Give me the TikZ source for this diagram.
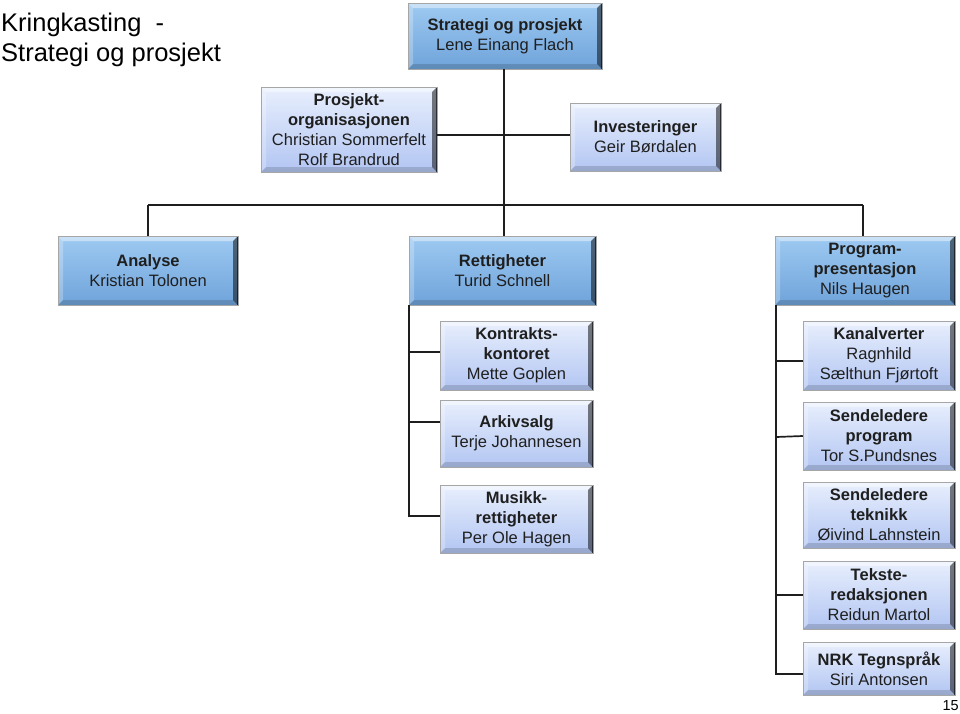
\documentclass[tikz,border=0pt]{standalone}
\usepackage{fontspec}
\setmainfont{Liberation Sans}
\definecolor{dtop}{HTML}{9ECAF2}
\definecolor{dbot}{HTML}{6FA3DA}
\definecolor{ltop}{HTML}{E8EFFD}
\definecolor{lbot}{HTML}{B2C5F2}
\definecolor{linec}{HTML}{1E1E1E}
\begin{document}
\begin{tikzpicture}[x=1pt,y=-1pt,
  boxbase/.style={rectangle, inner sep=0pt, align=center,
    font=\fontsize{16.5}{20}\selectfont, text=black!88,
    draw=black!35, line width=0.5pt,
    path picture={
      \fill[white,opacity=0.45] (path picture bounding box.north west) -- (path picture bounding box.north east)
        -- ([xshift=-5pt,yshift=-5pt]path picture bounding box.north east) -- ([xshift=5pt,yshift=-5pt]path picture bounding box.north west) -- cycle;
      \fill[white,opacity=0.25] (path picture bounding box.north west) -- ([xshift=5pt,yshift=-5pt]path picture bounding box.north west)
        -- ([xshift=5pt,yshift=5pt]path picture bounding box.south west) -- (path picture bounding box.south west) -- cycle;
      \fill[black,opacity=0.15] (path picture bounding box.south west) -- ([xshift=5pt,yshift=5pt]path picture bounding box.south west)
        -- ([xshift=-5pt,yshift=5pt]path picture bounding box.south east) -- (path picture bounding box.south east) -- cycle;
      \fill[black,opacity=0.5] (path picture bounding box.north east) -- ([xshift=-5pt,yshift=-5pt]path picture bounding box.north east)
        -- ([xshift=-5pt,yshift=5pt]path picture bounding box.south east) -- (path picture bounding box.south east) -- cycle;
      \fill[black,opacity=0.6] ([xshift=-1.5pt]path picture bounding box.north east) rectangle (path picture bounding box.south east);
    }},
  darkbox/.style={boxbase, top color=dtop, bottom color=dbot},
  lightbox/.style={boxbase, top color=ltop, bottom color=lbot},
  conn/.style={draw=linec, line width=1.7pt}
]
\useasboundingbox (0,0) rectangle (960,713);

% title
\node[anchor=north west, align=left, inner sep=0pt, font=\fontsize{25.5}{30}\selectfont] (title) at (1,13)
  {Kringkasting\ \ -\\Strategi og prosjekt};
\node[anchor=south east, inner sep=0pt, font=\fontsize{14.5}{16}\selectfont] (pagenum) at (959,711) {15};

% boxes
\node[darkbox, minimum width=194pt, minimum height=66pt] (strat) at (505,36)
  {\textbf{Strategi og prosjekt}\\Lene Einang Flach};
\node[lightbox, minimum width=176pt, minimum height=85pt] (prosj) at (349,129.5)
  {\textbf{Prosjekt-}\\\textbf{organisasjonen}\\Christian Sommerfelt\\Rolf Brandrud};
\node[lightbox, minimum width=151pt, minimum height=68pt] (inv) at (645.5,137)
  {\textbf{Investeringer}\\Geir Børdalen};

\node[darkbox, minimum width=180pt, minimum height=69pt] (anal) at (148,270.5)
  {\textbf{Analyse}\\Kristian Tolonen};
\node[darkbox, minimum width=187pt, minimum height=69pt] (rett) at (502.5,270.5)
  {\textbf{Rettigheter}\\Turid Schnell};
\node[darkbox, minimum width=180pt, minimum height=69pt] (prog) at (865,270.5)
  {\textbf{Program-}\\\textbf{presentasjon}\\Nils Haugen};

\node[lightbox, minimum width=153pt, minimum height=69pt] (kontr) at (516.5,355.5)
  {\textbf{Kontrakts-}\\\textbf{kontoret}\\Mette Goplen};
\node[lightbox, minimum width=153pt, minimum height=67pt] (arkiv) at (516.5,433.5)
  {\textbf{Arkivsalg}\\Terje Johannesen};
\node[lightbox, minimum width=153pt, minimum height=68pt] (musikk) at (516.5,519)
  {\textbf{Musikk-}\\\textbf{rettigheter}\\Per Ole Hagen};

\node[lightbox, minimum width=152pt, minimum height=69pt] (kanal) at (879,355.5)
  {\textbf{Kanalverter}\\Ragnhild\\Sælthun Fjørtoft};
\node[lightbox, minimum width=152pt, minimum height=68pt] (sprog) at (879,436)
  {\textbf{Sendeledere}\\\textbf{program}\\Tor S.Pundsnes};
\node[lightbox, minimum width=152pt, minimum height=66pt] (stek) at (879,515)
  {\textbf{Sendeledere}\\\textbf{teknikk}\\Øivind Lahnstein};
\node[lightbox, minimum width=152pt, minimum height=68pt] (tekst) at (879,595)
  {\textbf{Tekste-}\\\textbf{redaksjonen}\\Reidun Martol};
\node[lightbox, minimum width=152pt, minimum height=53pt] (nrk) at (879,668.5)
  {\textbf{NRK Tegnspråk}\\Siri Antonsen};

% connector junctions
\coordinate (hub) at (504,205);
\coordinate (hl) at (148,205);
\coordinate (hr) at (863,205);
\coordinate (rv) at (409,305);
\coordinate (pv) at (776,305);

\path[conn] (strat.south -| hub) -- (hub) -- (hub |- rett.north);
\path[conn] (hl) -- (hr);
\path[conn] (hl) -- (anal.north);
\path[conn] (hr) -- (hr |- prog.north);
\path[conn] (prosj.east |- 0,135) -- (inv.west |- 0,135);

\path[conn] (rv) |- ([yshift=3pt]musikk.west);
\path[conn] (rv |- 0,352) -- (kontr.west |- 0,352);
\path[conn] (rv |- 0,422) -- (arkiv.west |- 0,422);

\path[conn] (pv) |- ([yshift=-5.5pt]nrk.west);
\path[conn] (pv |- 0,361) -- (kanal.west |- 0,361);
\path[conn] (pv |- 0,437) -- (sprog.west |- 0,436);
\path[conn] (pv |- 0,595) -- (tekst.west |- 0,595);
\end{tikzpicture}
\end{document}
